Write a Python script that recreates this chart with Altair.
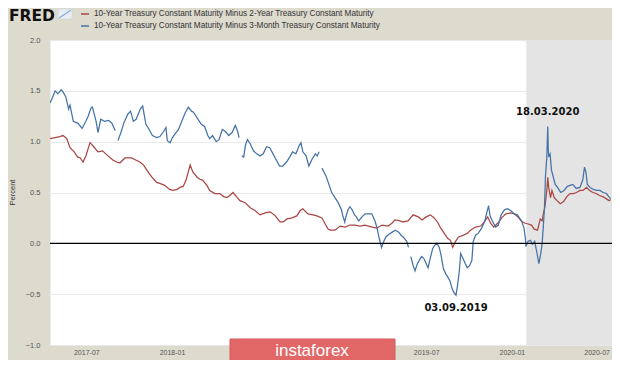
import altair as alt
import pandas as pd

SERIES = [
    "10-Year Treasury Constant Maturity Minus 2-Year Treasury Constant Maturity",
    "10-Year Treasury Constant Maturity Minus 3-Month Treasury Constant Maturity",
]
COLORS = ["#aa4643", "#4572a7"]

# 10Y - 2Y spread (red)
red_dates = [
    "2017-04-14", "2017-04-25", "2017-05-05", "2017-05-12", "2017-05-20", "2017-05-27", "2017-06-05",
    "2017-06-12", "2017-06-18", "2017-06-24", "2017-06-30", "2017-07-09", "2017-07-17", "2017-07-26",
    "2017-08-05", "2017-08-14", "2017-08-27", "2017-09-04", "2017-09-11", "2017-09-22", "2017-10-06",
    "2017-10-15", "2017-10-24", "2017-11-01", "2017-11-08", "2017-11-14", "2017-11-21", "2017-11-29",
    "2017-12-06", "2017-12-16", "2017-12-27", "2018-01-03", "2018-01-12", "2018-01-18", "2018-01-25",
    "2018-01-31", "2018-02-09", "2018-02-15", "2018-02-24", "2018-03-02", "2018-03-08", "2018-03-17",
    "2018-03-23", "2018-04-03", "2018-04-14", "2018-04-22", "2018-04-29", "2018-05-05", "2018-05-12",
    "2018-05-21", "2018-05-27", "2018-06-07", "2018-06-18", "2018-06-29", "2018-07-09", "2018-07-20",
    "2018-07-31", "2018-08-11", "2018-08-21", "2018-08-28", "2018-09-05", "2018-09-16", "2018-09-26",
    "2018-10-03", "2018-10-09", "2018-10-20", "2018-10-31", "2018-11-08", "2018-11-19", "2018-11-25",
    "2018-12-02", "2018-12-08", "2018-12-17", "2018-12-28", "2019-01-08", "2019-01-18", "2019-01-29",
    "2019-02-09", "2019-02-19", "2019-03-07", "2019-03-17", "2019-03-28", "2019-04-10", "2019-04-19",
    "2019-04-25", "2019-05-06", "2019-05-12", "2019-05-23", "2019-06-03", "2019-06-14", "2019-06-22",
    "2019-07-01", "2019-07-10", "2019-07-18", "2019-07-25", "2019-07-31", "2019-08-07", "2019-08-16",
    "2019-08-22", "2019-08-27", "2019-09-02", "2019-09-08", "2019-09-19", "2019-09-28", "2019-10-04",
    "2019-10-15", "2019-10-26", "2019-11-01", "2019-11-10", "2019-11-16", "2019-11-23", "2019-12-02",
    "2019-12-10", "2019-12-19", "2019-12-30", "2020-01-06", "2020-01-14", "2020-01-21", "2020-01-28",
    "2020-02-05", "2020-02-12", "2020-02-18", "2020-02-25", "2020-03-02", "2020-03-06", "2020-03-09",
    "2020-03-12", "2020-03-16", "2020-03-18", "2020-03-20", "2020-03-24", "2020-03-27", "2020-04-01",
    "2020-04-07", "2020-04-14", "2020-04-21", "2020-04-28", "2020-05-05", "2020-05-12", "2020-05-19",
    "2020-05-26", "2020-06-02", "2020-06-09", "2020-06-16", "2020-06-23", "2020-06-30", "2020-07-07",
    "2020-07-14", "2020-07-21", "2020-07-28", "2020-07-31",
]
red_vals = [
    1.03, 1.04, 1.05, 1.06, 1.03, 0.94, 0.90,
    0.85, 0.84, 0.80, 0.86, 0.99, 0.95, 0.90,
    0.91, 0.87, 0.82, 0.80, 0.79, 0.84, 0.84,
    0.82, 0.80, 0.77, 0.72, 0.68, 0.64, 0.60,
    0.59, 0.57, 0.53, 0.52, 0.53, 0.55, 0.56,
    0.62, 0.77, 0.70, 0.65, 0.63, 0.62, 0.57,
    0.52, 0.49, 0.49, 0.46, 0.45, 0.47, 0.50,
    0.45, 0.42, 0.40, 0.35, 0.32, 0.28, 0.30,
    0.31, 0.27, 0.21, 0.21, 0.24, 0.25, 0.27,
    0.32, 0.34, 0.29, 0.28, 0.27, 0.25, 0.20,
    0.14, 0.13, 0.13, 0.17, 0.16, 0.18, 0.18,
    0.17, 0.18, 0.16, 0.15, 0.18, 0.17, 0.20,
    0.23, 0.22, 0.21, 0.22, 0.28, 0.26, 0.23,
    0.26, 0.28, 0.25, 0.21, 0.16, 0.11, 0.05,
    0.03, -0.04, 0.02, 0.06, 0.08, 0.10, 0.13,
    0.16, 0.17, 0.20, 0.26, 0.20, 0.16, 0.20,
    0.25, 0.29, 0.30, 0.29, 0.26, 0.22, 0.20,
    0.19, 0.18, 0.14, 0.13, 0.24, 0.22, 0.30,
    0.36, 0.52, 0.65, 0.55, 0.45, 0.52, 0.45,
    0.42, 0.39, 0.41, 0.46, 0.49, 0.49, 0.50,
    0.52, 0.52, 0.55, 0.52, 0.50, 0.49, 0.47,
    0.46, 0.44, 0.42, 0.43,
]

# 10Y - 3M spread (blue); None marks a gap in the published series
blue_dates = [
    "2017-04-14", "2017-04-18", "2017-04-25", "2017-05-01", "2017-05-08", "2017-05-12", "2017-05-18",
    "2017-05-24", "2017-05-27", "2017-06-03", "2017-06-13", "2017-06-22", "2017-06-30", "2017-07-05",
    "2017-07-11", "2017-07-14", "2017-07-22", "2017-07-26", "2017-08-01", "2017-08-09", "2017-08-18",
    "2017-08-25", "2017-09-01", "2017-09-04", "2017-09-07", "2017-09-14", "2017-09-20", "2017-09-28",
    "2017-10-04", "2017-10-10", "2017-10-16", "2017-10-25", "2017-10-30", "2017-11-06", "2017-11-13",
    "2017-11-20", "2017-11-29", "2017-12-06", "2017-12-14", "2017-12-19", "2017-12-22", "2017-12-28",
    "2018-01-02", "2018-01-08", "2018-01-15", "2018-01-22", "2018-01-29", "2018-02-05", "2018-02-12",
    "2018-02-16", "2018-02-26", "2018-03-05", "2018-03-12", "2018-03-19", "2018-03-23", "2018-03-29",
    "2018-04-06", "2018-04-12", "2018-04-19", "2018-04-26", "2018-05-03", "2018-05-10", "2018-05-17",
    "2018-05-22", "2018-05-25", "2018-05-28", "2018-05-31", "2018-06-04", "2018-06-08", "2018-06-12",
    "2018-06-18", "2018-06-25", "2018-07-02", "2018-07-09", "2018-07-16", "2018-07-23", "2018-07-30",
    "2018-08-06", "2018-08-13", "2018-08-20", "2018-08-27", "2018-09-04", "2018-09-11", "2018-09-17",
    "2018-09-24", "2018-10-01", "2018-10-05", "2018-10-09", "2018-10-16", "2018-10-22", "2018-10-29",
    "2018-11-05", "2018-11-09", "2018-11-13", "2018-11-16", "2018-11-19", "2018-11-28", "2018-12-04",
    "2018-12-10", "2018-12-17", "2018-12-24", "2018-12-31", "2019-01-03", "2019-01-07", "2019-01-10",
    "2019-01-14", "2019-01-18", "2019-01-23", "2019-01-28", "2019-02-01", "2019-02-06", "2019-02-13",
    "2019-02-20", "2019-02-27", "2019-03-06", "2019-03-13", "2019-03-18", "2019-03-22", "2019-03-27",
    "2019-04-01", "2019-04-05", "2019-04-12", "2019-04-19", "2019-04-26", "2019-05-03", "2019-05-08",
    "2019-05-13", "2019-05-20", "2019-05-24", "2019-05-27", "2019-05-29", "2019-06-03", "2019-06-07",
    "2019-06-12", "2019-06-17", "2019-06-21", "2019-06-26", "2019-07-01", "2019-07-05", "2019-07-10",
    "2019-07-15", "2019-07-19", "2019-07-24", "2019-07-29", "2019-08-02", "2019-08-07", "2019-08-12",
    "2019-08-16", "2019-08-21", "2019-08-26", "2019-08-29", "2019-09-03", "2019-09-06", "2019-09-10",
    "2019-09-13", "2019-09-18", "2019-09-23", "2019-09-27", "2019-10-02", "2019-10-07", "2019-10-10",
    "2019-10-15", "2019-10-21", "2019-10-28", "2019-11-04", "2019-11-08", "2019-11-12", "2019-11-15",
    "2019-11-20", "2019-11-27", "2019-12-03", "2019-12-09", "2019-12-16", "2019-12-23", "2019-12-30",
    "2020-01-06", "2020-01-13", "2020-01-17", "2020-01-22", "2020-01-27", "2020-01-30", "2020-01-31",
    "2020-02-05", "2020-02-10", "2020-02-14", "2020-02-19", "2020-02-24", "2020-02-28", "2020-03-03",
    "2020-03-06", "2020-03-09", "2020-03-11", "2020-03-13", "2020-03-16", "2020-03-18", "2020-03-19",
    "2020-03-20", "2020-03-23", "2020-03-26", "2020-03-30", "2020-04-03", "2020-04-08", "2020-04-15",
    "2020-04-22", "2020-04-29", "2020-05-05", "2020-05-11", "2020-05-18", "2020-05-26", "2020-06-01",
    "2020-06-05", "2020-06-08", "2020-06-11", "2020-06-17", "2020-06-24", "2020-07-01", "2020-07-08",
    "2020-07-15", "2020-07-22", "2020-07-27", "2020-07-31",
]
blue_vals = [
    1.38, 1.42, 1.50, 1.47, 1.51, 1.49, 1.44,
    1.32, 1.36, 1.20, 1.18, 1.13, 1.20, 1.25,
    1.33, 1.34, 1.20, 1.09, 1.22, 1.20, 1.21,
    1.18, 1.11, None, 1.01, 1.10, 1.19, 1.27,
    1.30, 1.20, 1.22, 1.32, 1.35, 1.17, 1.12,
    1.06, 1.04, 1.05, 1.10, 1.14, 1.01, 0.99,
    1.04, 1.08, 1.12, 1.20, 1.28, 1.34, 1.30,
    1.29, 1.22, 1.17, 1.15, 1.06, 1.03, 1.06,
    1.00, 1.02, 1.12, 1.10, 1.06, 1.09, 1.16,
    1.10, 1.04, None, 0.86, 0.85, 0.97, 1.02,
    0.98, 0.91, 0.88, 0.86, 0.88, 0.95, 0.94,
    0.88, 0.82, 0.76, 0.76, 0.80, 0.85, 0.90,
    0.88, 0.96, 0.99, 0.90, 0.86, 0.76, 0.83,
    0.88, 0.86, 0.90, None, 0.74, 0.66, 0.58,
    0.50, 0.45, 0.40, 0.33, 0.27, 0.21, 0.27,
    0.33, 0.36, 0.33, 0.28, 0.26, 0.22, 0.26,
    0.29, 0.29, 0.29, 0.22, 0.14, 0.05, -0.04,
    0.02, 0.06, 0.09, 0.11, 0.13, 0.11, 0.08,
    0.06, 0.02, -0.04, None, -0.13, -0.22, -0.27,
    -0.20, -0.16, -0.13, -0.15, -0.20, -0.24, -0.14,
    -0.05, -0.02, 0.00, -0.04, -0.12, -0.25, -0.30,
    -0.33, -0.37, -0.45, -0.48, -0.51, -0.42, -0.28,
    -0.10, -0.15, -0.20, -0.24, -0.22, -0.17, 0.02,
    0.08, 0.10, 0.15, 0.22, 0.30, 0.37, 0.27,
    0.22, 0.16, 0.18, 0.28, 0.33, 0.34, 0.32,
    0.29, 0.28, 0.25, 0.22, 0.15, 0.05, -0.03,
    0.02, 0.03, -0.01, 0.02, -0.10, -0.20, -0.10,
    0.00, 0.20, 0.35, 0.65, 0.85, 1.15, 0.95,
    0.85, 0.88, 0.72, 0.65, 0.58, 0.55, 0.50,
    0.52, 0.56, 0.57, 0.58, 0.54, 0.55, 0.62,
    0.75, 0.70, 0.58, 0.55, 0.53, 0.52, 0.52,
    0.50, 0.49, 0.46, 0.44,
]

x_domain = [(2017, 4, 14), (2020, 8, 3)]
# 2018-07 and 2019-01 labels sit under the watermark banner in the reference
x_ticks = [(2017, 7, 1), (2018, 1, 1), (2019, 7, 1), (2020, 1, 1), (2020, 7, 1)]
y_ticks = [-1.0, -0.5, 0.0, 0.5, 1.0, 1.5, 2.0]
recession_start = ["2020-02-01"]
recession_end = ["2020-08-03"]
ann_dates = ["2019-09-03", "2020-03-18"]
ann_vals = [-0.51, 1.15]
ann_labels = ["03.09.2019", "18.03.2020"]


def dt(t):
    return alt.DateTime(year=t[0], month=t[1], date=t[2], utc=True)


def build_series(name, dates, vals):
    rows, seg = [], 0
    for d, v in zip(dates, vals):
        if v is None:
            seg += 1
            continue
        rows.append({"date": d, "value": v, "series": name, "seg": f"{name}-{seg}"})
    return rows


lines_df = pd.DataFrame(
    build_series(SERIES[0], red_dates, red_vals) + build_series(SERIES[1], blue_dates, blue_vals)
)
rec_df = pd.DataFrame({"start": recession_start, "end": recession_end})
ann_df = pd.DataFrame({"date": ann_dates, "value": ann_vals, "label": ann_labels})
zero_df = pd.DataFrame({"v": [0.0]})
one = pd.DataFrame({"k": [0]})

W, H = 562, 305
FONT = "Liberation Sans"

x_scale = alt.Scale(type="utc", domain=[dt(x_domain[0]), dt(x_domain[1])])
y_scale = alt.Scale(domain=[-1.0, 2.0], nice=False, zero=False)

x_enc = alt.X(
    "date:T", scale=x_scale, title=None,
    axis=alt.Axis(values=[dt(t) for t in x_ticks], format="%Y-%m", grid=False, ticks=False,
                  domain=False, labelFont=FONT, labelFontSize=7, labelColor="#555555", labelPadding=3),
)
y_enc = alt.Y(
    "value:Q", scale=y_scale, title="Percent",
    axis=alt.Axis(values=y_ticks, format=".1f", grid=True, gridColor="#e9e9e9", ticks=False,
                  domain=False, labelFont=FONT, labelFontSize=7.5, labelColor="#555555", labelPadding=10,
                  titleFont=FONT, titleFontSize=7.5, titleFontWeight="normal", titleColor="#333333",
                  titleX=-38, titleY=152, titleAngle=270, titleBaseline="middle", titleAlign="center"),
)

recession = alt.Chart(rec_df).mark_rect(color="#e4e4e4").encode(
    x=alt.X("start:T", scale=x_scale, title=None), x2="end:T", y=alt.value(0), y2=alt.value(H)
)

lines = alt.Chart(lines_df).mark_line(strokeWidth=1.25, clip=True).encode(
    x=x_enc,
    y=y_enc,
    color=alt.Color(
        "series:N",
        scale=alt.Scale(domain=SERIES, range=COLORS),
        legend=alt.Legend(orient="none", legendX=30, legendY=-31, title=None, direction="vertical",
                          symbolType="stroke", symbolSize=64, symbolStrokeWidth=1.5, labelFont=FONT,
                          labelFontSize=8.2, labelColor="#333333", labelLimit=600, rowPadding=3,
                          padding=0, labelOffset=4),
    ),
    detail="seg:N",
    order="date:T",
)

zero = alt.Chart(zero_df).mark_rule(color="#000000", strokeWidth=1.4).encode(
    y=alt.Y("v:Q", scale=y_scale)
)

ann_below = alt.Chart(ann_df).transform_filter(alt.datum.value < 0).mark_text(
    font="DejaVu Sans", fontWeight="bold", fontSize=10, color="#111111", dy=13, baseline="middle"
).encode(x=alt.X("date:T", scale=x_scale), y=alt.Y("value:Q", scale=y_scale), text="label:N")

ann_above = alt.Chart(ann_df).transform_filter(alt.datum.value > 0).mark_text(
    font="DejaVu Sans", fontWeight="bold", fontSize=10, color="#111111", dy=-14, baseline="middle"
).encode(x=alt.X("date:T", scale=x_scale), y=alt.Y("value:Q", scale=y_scale), text="label:N")

# FRED logo and watermark (decoration)
logo = alt.Chart(one).mark_text(
    text="FRED", font="DejaVu Sans", fontWeight="bold", fontSize=15.5, align="left",
    baseline="alphabetic", color="#111111"
).encode(x=alt.value(-41), y=alt.value(-19))
icon_box = alt.Chart(one).mark_rect(fill="#e8edf2", stroke="#c3d0dd", strokeWidth=0.5).encode(
    x=alt.value(8), x2=alt.value(22), y=alt.value(-31), y2=alt.value(-21)
)
icon_line = alt.Chart(one).mark_rule(color="#8fb0d0", strokeWidth=1.5).encode(
    x=alt.value(9), x2=alt.value(21), y=alt.value(-22), y2=alt.value(-30)
)
banner = alt.Chart(one).mark_rect(fill="#e26868", stroke="#d45a5a", strokeWidth=1).encode(
    x=alt.value(180), x2=alt.value(345), y=alt.value(299), y2=alt.value(330)
)
banner_text = alt.Chart(one).mark_text(
    text="instaforex", font=FONT, fontSize=17, color="#ffffff", align="center", baseline="middle"
).encode(x=alt.value(262), y=alt.value(311))

chart = alt.layer(
    recession, lines, zero, ann_below, ann_above, logo, icon_box, icon_line, banner, banner_text
).properties(
    width=W, height=H,
    background="#dddace",
    padding={"left": 42, "top": 32, "right": 0, "bottom": 15},
    autosize=alt.AutoSizeParams(type="none"),
).configure_view(fill="#ffffff", stroke="transparent")

chart.save("out.html", embed_options={"renderer": "svg", "actions": False})
